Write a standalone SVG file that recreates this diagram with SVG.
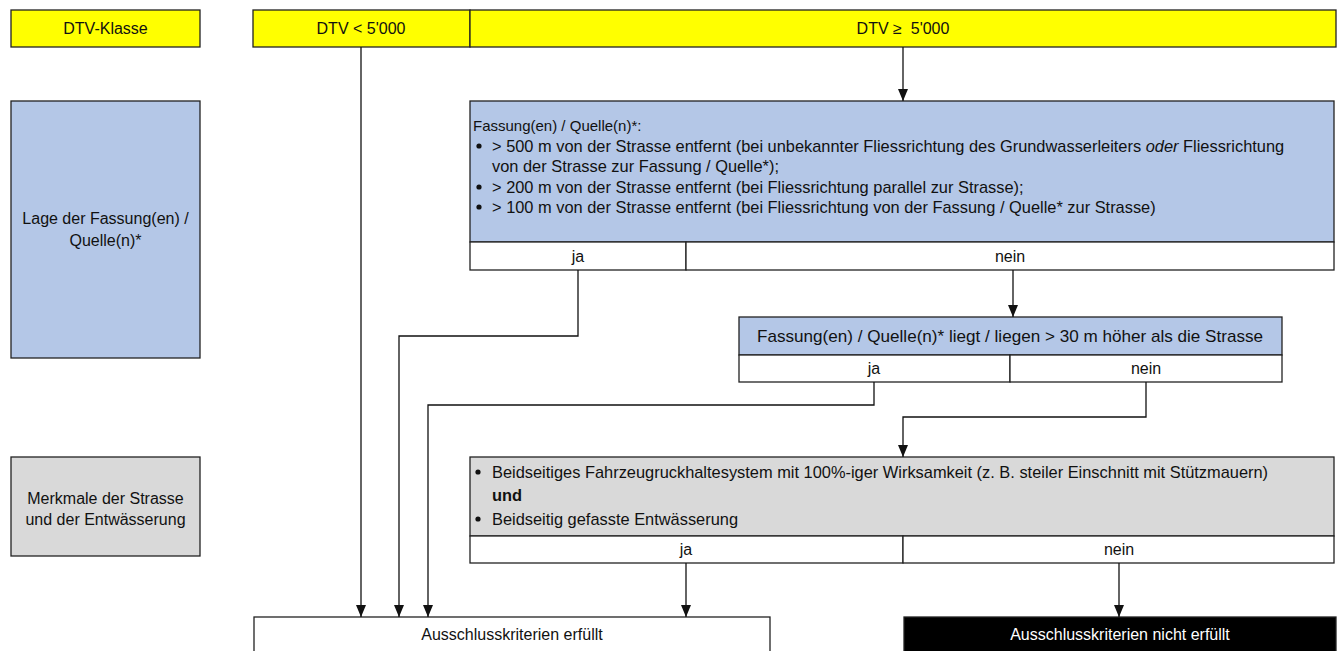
<svg xmlns="http://www.w3.org/2000/svg" width="1344" height="651" viewBox="0 0 1344 651">
<style>
text{font-family:"Liberation Sans",Arial,sans-serif;fill:#111}
.lbl{font-size:16px}
.t{font-size:16.4px}
.yn{font-size:16px}
.c{text-anchor:middle}
.box{stroke:#222;stroke-width:1.3}
.y{fill:#FFFF00}
.b{fill:#B4C7E7}
.g{fill:#D9D9D9}
.w{fill:#FFFFFF}
.k{fill:#000000}
.con{fill:none;stroke:#111;stroke-width:1.3}
</style>
<defs>
<marker id="ah" viewBox="0 0 12 10" refX="12" refY="5" markerWidth="12" markerHeight="10" markerUnits="userSpaceOnUse" orient="auto">
<path d="M0,0 L12,5 L0,10 z" fill="#111"/>
</marker>
</defs>
<rect width="1344" height="651" fill="#FFFFFF"/>

<g id="dtv-klasse">
<rect class="box y" x="11" y="10" width="189" height="37"/>
<text class="lbl c" x="105.5" y="34">DTV-Klasse</text>
</g>
<g id="dtv-low">
<rect class="box y" x="253" y="10" width="217" height="37"/>
<text class="lbl c" x="361" y="34">DTV &lt; 5'000</text>
</g>
<g id="dtv-high">
<rect class="box y" x="470" y="10" width="866" height="37"/>
<text class="lbl c" x="903" y="34" xml:space="preserve">DTV ≥  5'000</text>
</g>

<g id="lage">
<rect class="box b" x="11" y="101" width="189" height="257"/>
<text class="lbl c" x="105.5" y="224">Lage der Fassung(en) /</text>
<text class="lbl c" x="105.5" y="246">Quelle(n)*</text>
</g>
<g id="merkmale">
<rect class="box g" x="11" y="457" width="189" height="99"/>
<text class="lbl c" x="105.5" y="504">Merkmale der Strasse</text>
<text class="lbl c" x="105.5" y="525">und der Entwässerung</text>
</g>

<g id="fassung-distanz">
<rect class="box b" x="470" y="101" width="864" height="141"/>
<text x="473" y="131" font-size="15">Fassung(en) / Quelle(n)*:</text>
<circle cx="479" cy="146" r="2.6" fill="#111"/>
<text class="t" x="492" y="152">&gt; 500 m von der Strasse entfernt (bei unbekannter Fliessrichtung des Grundwasserleiters <tspan font-style="italic">oder</tspan> Fliessrichtung</text>
<text class="t" x="492" y="172">von der Strasse zur Fassung / Quelle*);</text>
<circle cx="479" cy="187" r="2.6" fill="#111"/>
<text class="t" x="492" y="193">&gt; 200 m von der Strasse entfernt (bei Fliessrichtung parallel zur Strasse);</text>
<circle cx="479" cy="207" r="2.6" fill="#111"/>
<text class="t" x="492" y="213">&gt; 100 m von der Strasse entfernt (bei Fliessrichtung von der Fassung / Quelle* zur Strasse)</text>
<rect class="box w" x="470" y="242" width="216" height="28"/>
<rect class="box w" x="686" y="242" width="648" height="28"/>
<text class="yn c" x="578" y="262">ja</text>
<text class="yn c" x="1010" y="262">nein</text>
</g>

<g id="fassung-hoehe">
<rect class="box b" x="739" y="317" width="543" height="38"/>
<text class="t c" x="1010" y="342" textLength="506" lengthAdjust="spacingAndGlyphs">Fassung(en) / Quelle(n)* liegt / liegen &gt; 30 m höher als die Strasse</text>
<rect class="box w" x="739" y="355" width="271" height="27"/>
<rect class="box w" x="1010" y="355" width="272" height="27"/>
<text class="yn c" x="874" y="374">ja</text>
<text class="yn c" x="1146" y="374">nein</text>
</g>

<g id="strasse">
<rect class="box g" x="470" y="457" width="864" height="79"/>
<circle cx="478" cy="472" r="2.6" fill="#111"/>
<text class="t" x="492" y="478">Beidseitiges Fahrzeugruckhaltesystem mit 100%-iger Wirksamkeit (z. B. steiler Einschnitt mit Stützmauern)</text>
<text class="t" x="492" y="501" font-weight="bold">und</text>
<circle cx="478" cy="519" r="2.6" fill="#111"/>
<text class="t" x="492" y="525">Beidseitig gefasste Entwässerung</text>
<rect class="box w" x="470" y="536" width="433" height="27"/>
<rect class="box w" x="903" y="536" width="431" height="27"/>
<text class="yn c" x="686" y="555">ja</text>
<text class="yn c" x="1119" y="555">nein</text>
</g>

<g id="erfuellt">
<rect class="box w" x="254" y="617" width="516" height="40"/>
<text class="lbl c" x="512" y="640">Ausschlusskriterien erfüllt</text>
</g>
<g id="nicht-erfuellt">
<rect class="box k" x="904" y="617" width="432" height="40"/>
<text class="lbl c" x="1120" y="640" style="fill:#FFFFFF">Ausschlusskriterien nicht erfüllt</text>
</g>

<g id="connectors">
<path class="con" d="M361,47 V617" marker-end="url(#ah)"/>
<path class="con" d="M903,47 V101" marker-end="url(#ah)"/>
<path class="con" d="M578,270 V336 H399 V617" marker-end="url(#ah)"/>
<path class="con" d="M1013,270 V317" marker-end="url(#ah)"/>
<path class="con" d="M874,382 V405 H428 V617" marker-end="url(#ah)"/>
<path class="con" d="M1146,382 V417 H903 V457" marker-end="url(#ah)"/>
<path class="con" d="M686,563 V617" marker-end="url(#ah)"/>
<path class="con" d="M1119,563 V617" marker-end="url(#ah)"/>
</g>
</svg>
